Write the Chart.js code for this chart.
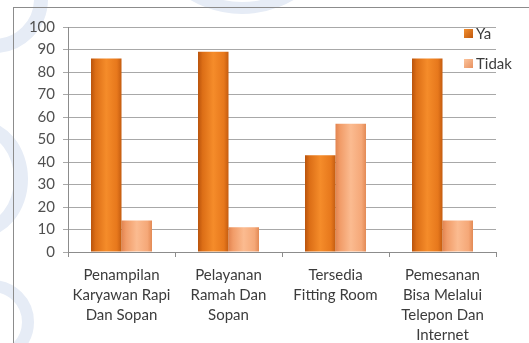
<!DOCTYPE html>
<html>
<head>
<meta charset="utf-8">
<script src="https://cdn.jsdelivr.net/npm/chart.js@4/dist/chart.umd.min.js"></script>
<style>
  html, body { margin: 0; padding: 0; }
  body {
    width: 529px; height: 343px; overflow: hidden; position: relative;
    background: #ffffff;
  }
  /* faint logo shapes behind the chart */
  .mark { position: absolute; border-radius: 50%; border-style: solid; border-color: #e6ecf6; }
  #wrap { position: absolute; left: 0; top: 0; width: 529px; height: 343px; }
</style>
</head>
<body>
<div class="mark" style="left:-60px; top:-55px; width:80px; height:80px; border-width:14px;"></div>
<div class="mark" style="left:140px; top:-190px; width:180px; height:180px; border-width:12px;"></div>
<div class="mark" style="left:-70px; top:120px; width:70px; height:90px; border-width:14px;"></div>
<div class="mark" style="left:-50px; top:280px; width:60px; height:60px; border-width:12px;"></div>
<div id="wrap"><canvas id="chart" width="529" height="343"></canvas></div>
<script>
// Categories and survey percentages
const categories = [
    ['Penampilan', 'Karyawan Rapi', 'Dan Sopan'],
    ['Pelayanan', 'Ramah Dan', 'Sopan'],
    ['Tersedia', 'Fitting Room'],
    ['Pemesanan', 'Bisa Melalui', 'Telepon Dan', 'Internet']
];
const seriesNames = ['Ya', 'Tidak'];
const yaValues = [86, 89, 43, 86];
const tidakValues = [14, 11, 57, 14];
const yTicks = [0, 10, 20, 30, 40, 50, 60, 70, 80, 90, 100];

const CAT_PCT = 0.57;
const FONT = 'Lato, "Open Sans", sans-serif';

// Bar fill: horizontal shading dark edge -> bright middle -> dark edge
function barFill(flat, stops) {
    return (ctx) => {
        const chart = ctx.chart;
        const xs = chart.scales && chart.scales.x;
        if (!xs || ctx.type !== 'data' || xs.right == null) return flat;
        const cw = (xs.right - xs.left) / categories.length;
        const w = cw * CAT_PCT / 2;
        const cx = xs.getPixelForValue(ctx.dataIndex);
        const left = cx - w + ctx.datasetIndex * w;
        const g = chart.ctx.createLinearGradient(left, 0, left + w, 0);
        stops.forEach(s => g.addColorStop(s[0], s[1]));
        return g;
    };
}

// Outer frame around the chart
const framePlugin = {
    id: 'frame',
    beforeDraw(chart) {
        const c = chart.ctx;
        c.save();
        c.strokeStyle = '#8c8c8c';
        c.lineWidth = 1;
        c.strokeRect(13.5, 7.5, 600, 400);
        c.restore();
    }
};

// Legend drawn over the upper right of the plot
const legendPlugin = {
    id: 'sideLegend',
    afterDraw(chart) {
        const c = chart.ctx;
        c.save();
        c.font = '15px ' + FONT;
        c.textBaseline = 'middle';
        chart.data.datasets.forEach((ds, i) => {
            const y = 33 + i * 30;
            const x = 464;
            const g = c.createLinearGradient(x, y - 4, x + 9, y + 5);
            g.addColorStop(0, ds.legendColor[0]);
            g.addColorStop(1, ds.legendColor[1]);
            c.fillStyle = g;
            c.fillRect(x, y - 4, 9, 9);
            c.fillStyle = '#3c3c3c';
            c.fillText(ds.label, x + 12, y + 1);
        });
        c.restore();
    }
};

new Chart(document.getElementById('chart'), {
    type: 'bar',
    data: {
        labels: categories,
        datasets: [{
            label: seriesNames[0],
            data: yaValues,
            backgroundColor: barFill('#ee8424', [[0, '#b9530c'], [0.15, '#dc6e16'], [0.5, '#f58c2a'], [0.85, '#e7781c'], [1, '#c45c10']]),
            legendColor: ['#f39030', '#c0580e'],
            categoryPercentage: CAT_PCT,
            barPercentage: 1.0
        }, {
            label: seriesNames[1],
            data: tidakValues,
            backgroundColor: barFill('#f7ac7c', [[0, '#e28450'], [0.15, '#f19c68'], [0.5, '#fbbb90'], [0.85, '#f5a878'], [1, '#e38a55']]),
            legendColor: ['#fbc49c', '#e89160'],
            categoryPercentage: CAT_PCT,
            barPercentage: 1.0
        }]
    },
    options: {
        responsive: false,
        animation: false,
        layout: { padding: { left: 0, right: 33, top: 27, bottom: 0 } },
        plugins: {
            legend: { display: false },
            tooltip: { enabled: false }
        },
        scales: {
            x: {
                offset: true,
                grid: { drawOnChartArea: false, drawTicks: true, tickLength: 5, color: '#8c8c8c', offset: true },
                border: { color: '#8c8c8c' },
                ticks: {
                    color: '#3c3c3c',
                    font: { family: FONT, size: 15, lineHeight: 1.34 },
                    padding: 8,
                    maxRotation: 0,
                    autoSkip: false
                },
                afterFit(s) { s.height = 343 - 252; }
            },
            y: {
                min: 0,
                max: 100,
                afterBuildTicks(s) { s.ticks = yTicks.map(v => ({ value: v })); },
                grid: { color: '#a8a8a8', tickLength: 5 },
                border: { color: '#8c8c8c' },
                ticks: {
                    color: '#505050',
                    font: { family: FONT, size: 15 },
                    padding: 8
                },
                afterFit(s) { s.width = 68; }
            }
        }
    },
    plugins: [framePlugin, legendPlugin]
});
</script>
</body>
</html>
